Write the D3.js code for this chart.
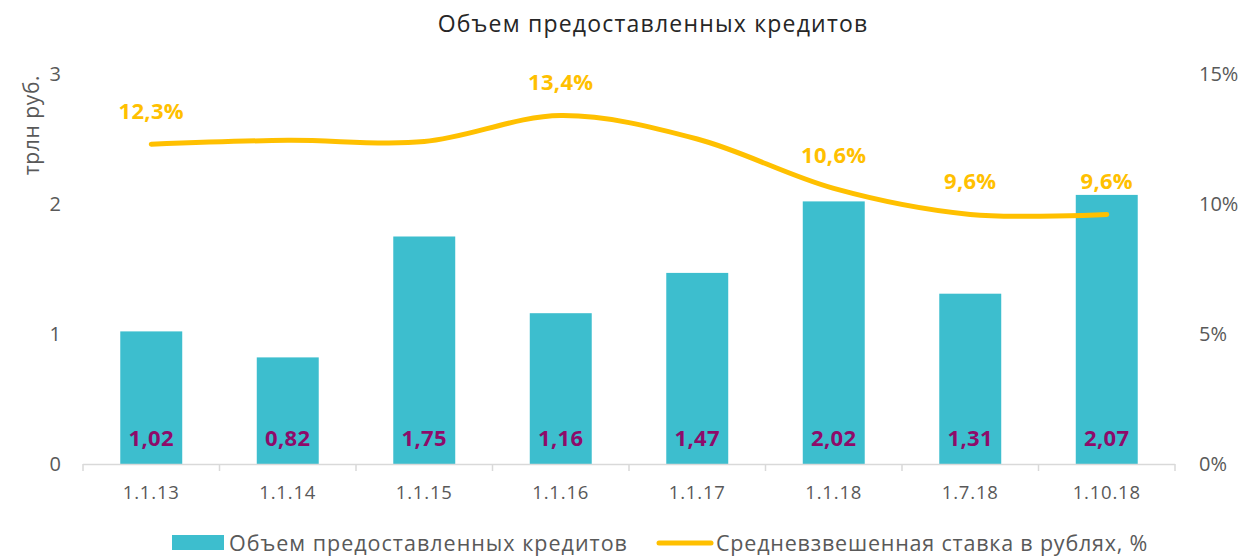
<!DOCTYPE html>
<html>
<head>
<meta charset="utf-8">
<script src="https://cdn.jsdelivr.net/npm/d3@7"></script>
<style>
  body { margin: 0; background: #fff; }
  svg { font-family: "Open Sans", sans-serif; }
</style>
</head>
<body>
<svg id="chart" width="1243" height="556"></svg>
<script>
// data
var categories = ["1.1.13", "1.1.14", "1.1.15", "1.1.16", "1.1.17", "1.1.18", "1.7.18", "1.10.18"];
var volumes = [1.02, 0.82, 1.75, 1.16, 1.47, 2.02, 1.31, 2.07];
var rates = [12.3, 12.45, 12.4, 13.4, 12.5, 10.6, 9.6, 9.6];
var rateLabelShown = [true, false, false, true, false, true, true, true];
var leftTicks = [0, 1, 2, 3];
var rightTicks = [0, 5, 10, 15];

var width = 1243, height = 556;
var plotLeft = 83, plotRight = 1175, plotTop = 74, plotBottom = 464;

var svg = d3.select("#chart");

var x = d3.scaleBand()
    .domain(categories)
    .range([plotLeft, plotRight])
    .paddingInner(0.546)
    .paddingOuter(0.273);

var y = d3.scaleLinear().domain([0, 3]).range([plotBottom, plotTop]);
var y2 = d3.scaleLinear().domain([0, 15]).range([plotBottom, plotTop]);

var fmt = function(v) { return v.toFixed(2).replace(".", ","); };
var fmtPct = function(v) { return v.toFixed(1).replace(".", ",") + "%"; };
var cx = function(i) { return x(categories[i]) + x.bandwidth() / 2; };

// title
svg.append("text")
    .attr("x", 653).attr("y", 24)
    .attr("dy", "0.35em")
    .attr("text-anchor", "middle")
    .attr("font-size", 23)
    .attr("letter-spacing", 1.2)
    .attr("fill", "#262626")
    .text("Объем предоставленных кредитов");

// left axis label
svg.append("text")
    .attr("transform", "translate(32,125) rotate(-90)")
    .attr("dy", "0.35em")
    .attr("text-anchor", "middle")
    .attr("font-size", 21)
    .attr("letter-spacing", 0.6)
    .attr("fill", "#595959")
    .text("трлн руб.");

// left ticks
svg.append("g").selectAll("text")
    .data(leftTicks)
    .enter().append("text")
    .attr("x", 61)
    .attr("y", function(d) { return y(d); })
    .attr("dy", "0.35em")
    .attr("text-anchor", "end")
    .attr("font-size", 20)
    .attr("fill", "#595959")
    .text(function(d) { return d; });

// right ticks
svg.append("g").selectAll("text")
    .data(rightTicks)
    .enter().append("text")
    .attr("x", 1199)
    .attr("y", function(d) { return y2(d); })
    .attr("dy", "0.35em")
    .attr("text-anchor", "start")
    .attr("font-size", 20)
    .attr("fill", "#595959")
    .text(function(d) { return d + "%"; });

// bars
svg.append("g").selectAll("rect")
    .data(volumes)
    .enter().append("rect")
    .attr("x", function(d, i) { return x(categories[i]); })
    .attr("y", function(d) { return y(d); })
    .attr("width", x.bandwidth())
    .attr("height", function(d) { return plotBottom - y(d); })
    .attr("fill", "#3DBECE");

// x axis
var xAxis = d3.axisBottom(x).tickSize(0).tickPadding(22);
var gx = svg.append("g")
    .attr("transform", "translate(0," + plotBottom + ")")
    .call(xAxis);
gx.select(".domain").remove();
gx.selectAll("text")
    .attr("font-family", "Open Sans, sans-serif")
    .attr("font-size", 18.5)
    .attr("letter-spacing", 0.8)
    .attr("fill", "#595959");

var step = x.step();
var bounds = d3.range(categories.length + 1).map(function(i) { return plotLeft + i * step; });
svg.append("line")
    .attr("x1", plotLeft).attr("x2", plotRight)
    .attr("y1", plotBottom + 0.5).attr("y2", plotBottom + 0.5)
    .attr("stroke", "#d9d9d9").attr("stroke-width", 1.5);
svg.append("g").selectAll("line")
    .data(bounds)
    .enter().append("line")
    .attr("x1", function(d) { return d; }).attr("x2", function(d) { return d; })
    .attr("y1", plotBottom).attr("y2", plotBottom + 7)
    .attr("stroke", "#d9d9d9").attr("stroke-width", 1.5);

// bar labels
svg.append("g").selectAll("text")
    .data(volumes)
    .enter().append("text")
    .attr("x", function(d, i) { return cx(i); })
    .attr("y", 438)
    .attr("dy", "0.35em")
    .attr("text-anchor", "middle")
    .attr("font-size", 22)
    .attr("letter-spacing", 0.4)
    .attr("font-weight", "bold")
    .attr("fill", "#8E0B6A")
    .text(fmt);

// rate line
var line = d3.line()
    .x(function(d, i) { return cx(i); })
    .y(function(d) { return y2(d); })
    .curve(d3.curveCardinal.tension(0));

svg.append("path")
    .datum(rates)
    .attr("d", line)
    .attr("fill", "none")
    .attr("stroke", "#FFC000")
    .attr("stroke-width", 5)
    .attr("stroke-linecap", "round");

// rate labels (only the ones shown in the original)
svg.append("g").selectAll("text")
    .data(rates.map(function(v, i) { return { v: v, i: i }; })
        .filter(function(d) { return rateLabelShown[d.i]; }))
    .enter().append("text")
    .attr("x", function(d) { return cx(d.i); })
    .attr("y", function(d) { return y2(d.v) - 33; })
    .attr("dy", "0.35em")
    .attr("text-anchor", "middle")
    .attr("font-size", 22)
    .attr("letter-spacing", 0.3)
    .attr("font-weight", "bold")
    .attr("fill", "#FFC000")
    .text(function(d) { return fmtPct(d.v); });

// legend
var lg = svg.append("g");
lg.append("rect")
    .attr("x", 172).attr("y", 535).attr("width", 52).attr("height", 15)
    .attr("fill", "#3DBECE");
lg.append("text")
    .attr("x", 229).attr("y", 543).attr("dy", "0.35em")
    .attr("font-size", 21.5).attr("letter-spacing", 1.0).attr("fill", "#595959")
    .text("Объем предоставленных кредитов");
lg.append("line")
    .attr("x1", 659).attr("x2", 711).attr("y1", 543).attr("y2", 543)
    .attr("stroke", "#FFC000").attr("stroke-width", 5).attr("stroke-linecap", "round");
lg.append("text")
    .attr("x", 716).attr("y", 543).attr("dy", "0.35em")
    .attr("font-size", 21.5).attr("letter-spacing", 0.8).attr("fill", "#595959")
    .text("Средневзвешенная ставка в рублях, %");
</script>
</body>
</html>
